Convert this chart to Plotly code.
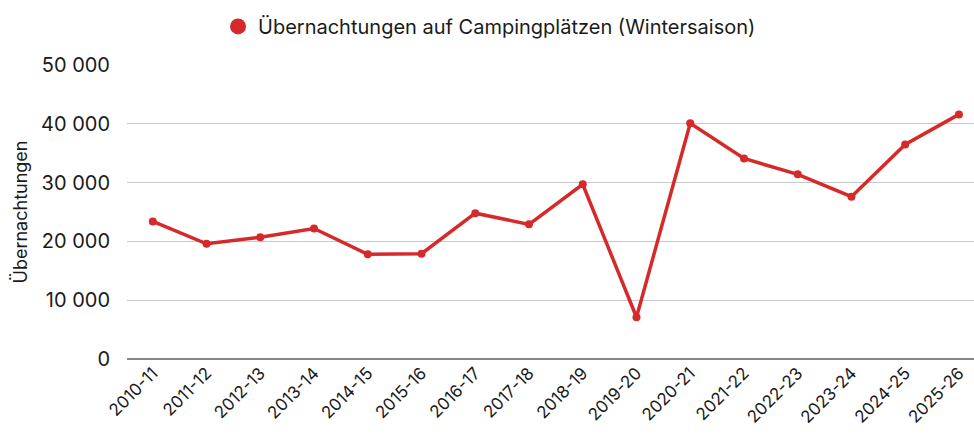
import plotly.graph_objects as go

seasons = ["2010-11", "2011-12", "2012-13", "2013-14", "2014-15", "2015-16", "2016-17", "2017-18",
           "2018-19", "2019-20", "2020-21", "2021-22", "2022-23", "2023-24", "2024-25", "2025-26"]
overnights = [23400, 19600, 20700, 22200, 17800, 17900, 24800, 22900,
              29700, 7100, 40100, 34100, 31400, 27600, 36500, 41600]

series_name = "Übernachtungen auf Campingplätzen (Wintersaison)"
y_title = "Übernachtungen"
y_ticks = [0, 10000, 20000, 30000, 40000, 50000]
red = "#d62a2a"

fig = go.Figure()
fig.add_trace(go.Scatter(
    x=seasons, y=overnights, name=series_name, mode="lines+markers",
    line=dict(color=red, width=3.5),
    marker=dict(color=red, size=8),
    showlegend=False,
))
# legend entry: a single large dot, as in the reference
fig.add_trace(go.Scatter(
    x=[None], y=[None], name=series_name, mode="markers",
    marker=dict(color=red, size=20), showlegend=True,
))

fig.update_layout(
    width=974, height=436,
    margin=dict(l=127, r=0, t=65, b=77, autoexpand=False),
    paper_bgcolor="white", plot_bgcolor="white",
    font=dict(family="Inter, Roboto, sans-serif", color="#1a1a1a", size=16),
    separators=", ",
    legend=dict(orientation="h", x=0.428, xanchor="center",
                y=1.065, yanchor="bottom",
                font=dict(size=20), itemsizing="trace", itemwidth=30),
    xaxis=dict(type="category", range=[-0.48, 15.28], tickangle=-45,
               tickfont=dict(size=17), showgrid=False, showline=False, ticks=""),
    yaxis=dict(range=[0, 50000], tickvals=y_ticks, tickformat=",d",
               tickfont=dict(size=20), gridcolor="#c8c8c8", gridwidth=1,
               zeroline=True, zerolinecolor="#888", zerolinewidth=1.5,
               ticklabelstandoff=16,
               title=dict(text=y_title, font=dict(size=18), standoff=8)),
)

fig.write_html("out.html", config={"displayModeBar": False},
               post_script="document.body.style.margin='0';document.body.style.overflow='hidden';")
